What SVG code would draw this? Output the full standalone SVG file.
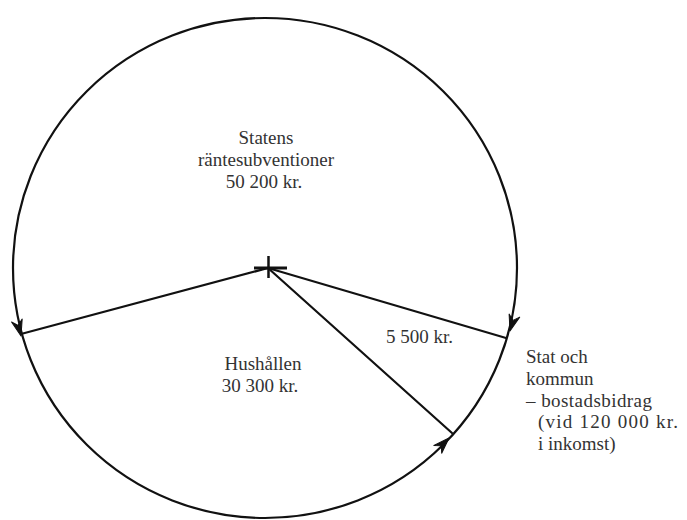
<svg xmlns="http://www.w3.org/2000/svg" width="687" height="520" viewBox="0 0 687 520">
  <style>
    .ln { stroke: #111; stroke-width: 2.2; fill: none; stroke-linecap: round; }
    .ah { fill: #111; stroke: #111; stroke-width: 1; stroke-linejoin: round; }
    .t { font-family: "Liberation Serif", "Times New Roman", serif; font-size: 19px; fill: #333; }
    .c { text-anchor: middle; }
  </style>
  <defs>
    <path id="ah" d="M0,0 L-16,-5.5 L-11,0 L-16,5.5 Z"/>
  </defs>
  <rect width="687" height="520" fill="#fff"/>

  <g id="circle">
    <ellipse class="ln" cx="265" cy="268" rx="252" ry="250"/>
  </g>

  <g id="connectors">
    <line class="ln" x1="268" y1="268" x2="21" y2="334"/>
    <line class="ln" x1="268" y1="268" x2="506" y2="338"/>
    <line class="ln" x1="268" y1="268" x2="452" y2="433"/>
    <use href="#ah" class="ah" transform="translate(21,336) rotate(75)"/>
    <use href="#ah" class="ah" transform="translate(510,331) rotate(106)"/>
    <use href="#ah" class="ah" transform="translate(449,438) rotate(-45.5)"/>
  </g>

  <g id="center">
    <line x1="254" y1="268" x2="287" y2="268" stroke="#111" stroke-width="3"/>
    <line x1="268.5" y1="256" x2="268.5" y2="278" stroke="#111" stroke-width="2.5"/>
  </g>

  <g id="statens">
    <text class="t c" x="266" y="144">Statens</text>
    <text class="t c" x="266" y="166">räntesubventioner</text>
    <text class="t c" x="264" y="188">50 200 kr.</text>
  </g>

  <g id="hushallen">
    <text class="t c" x="263" y="370">Hushållen</text>
    <text class="t c" x="260" y="392">30 300 kr.</text>
  </g>

  <g id="share">
    <text class="t" x="386" y="343">5 500 kr.</text>
  </g>

  <g id="stat-kommun">
    <text class="t" x="526" y="363">Stat och</text>
    <text class="t" x="526" y="385">kommun</text>
    <text class="t" x="526" y="407" textLength="126" lengthAdjust="spacing">– bostadsbidrag</text>
    <text class="t" x="538" y="428" textLength="140" lengthAdjust="spacing">(vid 120 000 kr.</text>
    <text class="t" x="538" y="450">i inkomst)</text>
  </g>
</svg>
